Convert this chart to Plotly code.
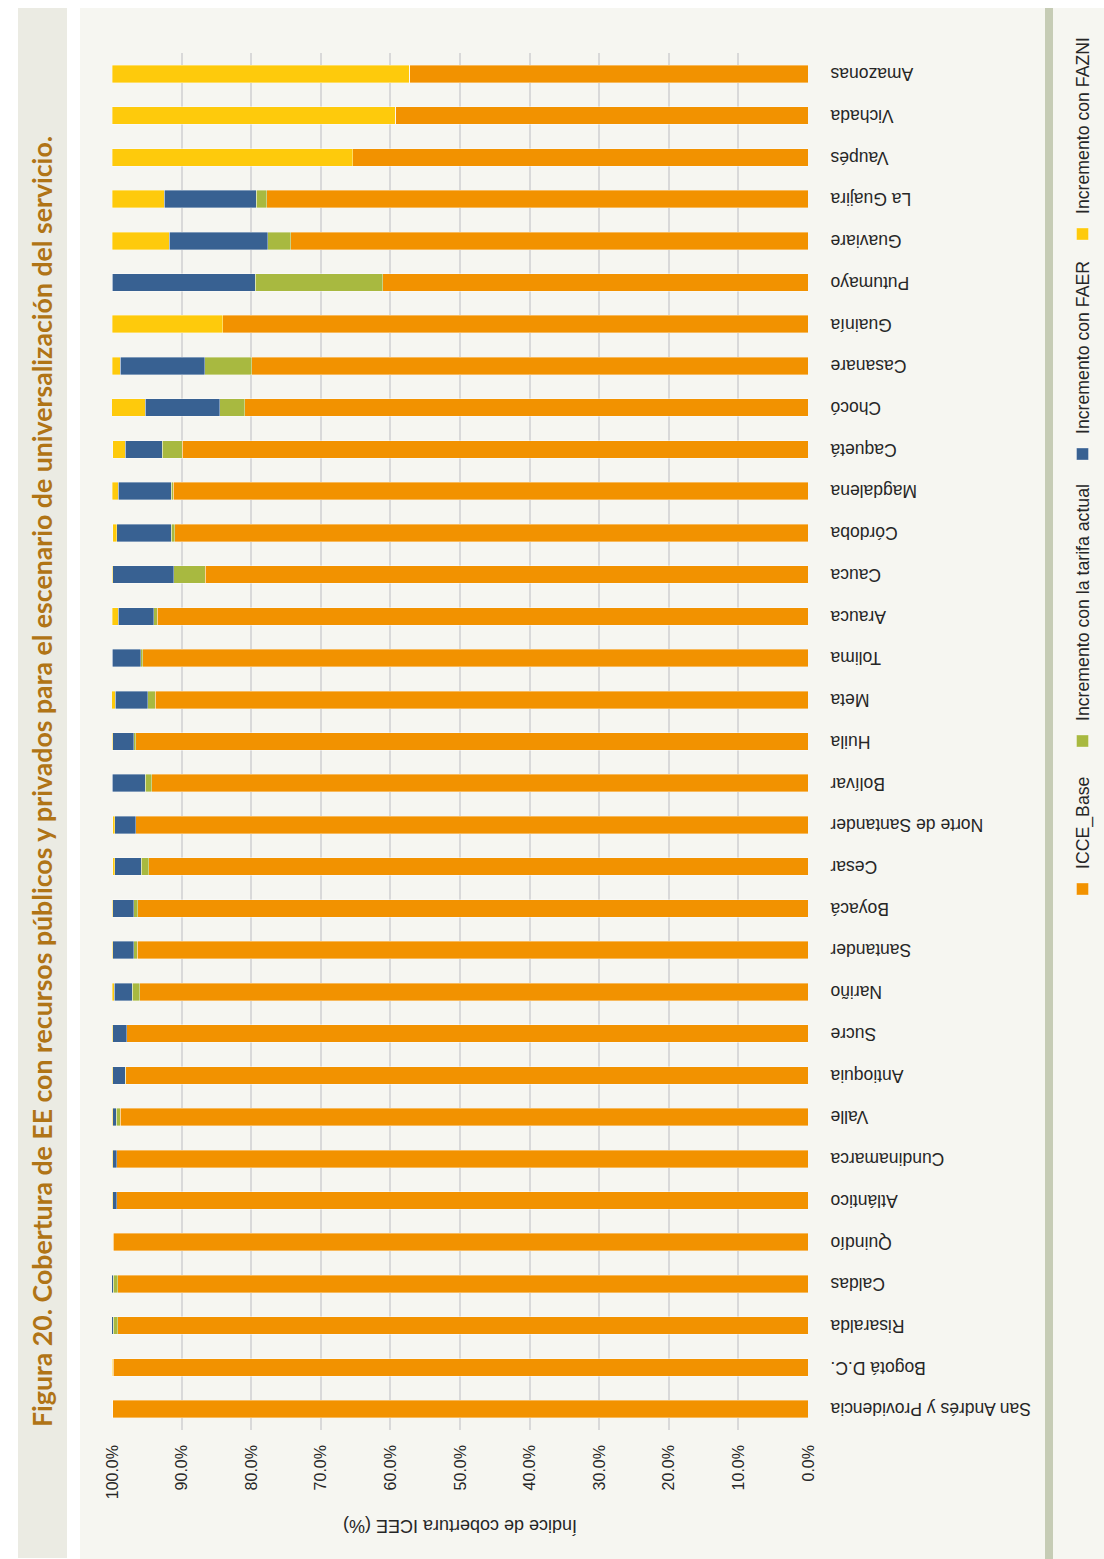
import plotly.graph_objects as go

# ---------------- data (left-to-right in the original landscape chart) ----------------
categories = [
    "San Andrés y Providencia", "Bogotá D.C.", "Risaralda", "Caldas", "Quindío",
    "Atlántico", "Cundinamarca", "Valle", "Antioquia", "Sucre", "Nariño",
    "Santander", "Boyacá", "Cesar", "Norte de Santander", "Bolívar", "Huila",
    "Meta", "Tolima", "Arauca", "Cauca", "Córdoba", "Magdalena", "Caquetá",
    "Chocó", "Casanare", "Guainía", "Putumayo", "Guaviare", "La Guajira",
    "Vaupés", "Vichada", "Amazonas",
]
icce_base = [100.0, 99.8, 99.2, 99.2, 99.8, 99.3, 99.3, 98.8, 98.0, 97.9, 96.0,
             96.4, 96.3, 94.7, 96.6, 94.3, 96.6, 93.8, 95.6, 93.5, 86.6, 91.0,
             91.2, 89.9, 80.9, 79.9, 84.1, 61.1, 74.3, 77.8, 65.4, 59.3, 57.3]
inc_tarifa = [0.0, 0.1, 0.6, 0.6, 0.2, 0.0, 0.0, 0.6, 0.1, 0.0, 1.1,
              0.5, 0.6, 1.1, 0.0, 0.9, 0.3, 1.1, 0.3, 0.5, 4.5, 0.5,
              0.3, 2.9, 3.6, 6.8, 0.0, 18.3, 3.3, 1.5, 0.0, 0.0, 0.0]
inc_faer = [0.0, 0.0, 0.3, 0.3, 0.0, 0.6, 0.6, 0.5, 1.8, 2.0, 2.6,
            3.0, 3.0, 3.8, 3.0, 4.8, 3.0, 4.6, 4.1, 5.1, 8.8, 7.8,
            7.6, 5.3, 10.7, 12.1, 0.0, 20.6, 14.2, 13.2, 0.0, 0.0, 0.0]
inc_fazni = [0.0, 0.1, 0.0, 0.0, 0.0, 0.1, 0.1, 0.1, 0.1, 0.1, 0.3,
             0.1, 0.1, 0.3, 0.3, 0.1, 0.1, 0.6, 0.1, 0.9, 0.1, 0.6,
             0.9, 1.8, 4.9, 1.2, 15.9, 0.2, 8.2, 7.5, 34.6, 40.7, 42.7]

series_names = ["ICCE_Base", "Incremento con la tarifa actual",
                "Incremento con FAER", "Incremento con FAZNI"]
series_values = [icce_base, inc_tarifa, inc_faer, inc_fazni]
series_colors = ["#F29200", "#A8B940", "#386192", "#FECA0C"]

value_ticks = [i / 10 for i in range(11)]

title_text = ("Figura 20. Cobertura de EE con recursos públicos y privados para el "
              "escenario de universalización del servicio.")
axis_title = "Índice de cobertura ICEE (%)"

# ---------------- geometry of the landscape page (rotated afterwards) ----------------
W, H = 1559, 1104
ML, MR, MT, MB = 129, 53, 112, 296
PW, PH = W - ML - MR, H - MT - MB


def px_x(x):
    return (x - ML) / PW


def px_y(y):
    return (H - MB - y) / PH


legend_ids = ["legend", "legend2", "legend3", "legend4"]
legend_left_px = [650, 798, 1085, 1305]

fig = go.Figure()
for name, vals, col, lid in zip(series_names, series_values, series_colors, legend_ids):
    fig.add_trace(go.Bar(
        x=categories, y=[v / 100 for v in vals], name=name, legend=lid,
        marker=dict(color=col, line=dict(color="rgba(255,255,255,0.45)", width=0.8)),
    ))

shapes = [
    # chart background panel
    dict(type="rect", xref="paper", yref="paper", layer="below",
         x0=px_x(0), x1=px_x(1551), y0=px_y(80), y1=px_y(1104),
         fillcolor="#F6F6F1", line=dict(width=0)),
    # title band
    dict(type="rect", xref="paper", yref="paper", layer="below",
         x0=px_x(1), x1=px_x(1551), y0=px_y(18), y1=px_y(67),
         fillcolor="#EBEBE3", line=dict(width=0)),
    # separator above legend
    dict(type="rect", xref="paper", yref="paper", layer="below",
         x0=px_x(0), x1=px_x(1551), y0=px_y(1045), y1=px_y(1053),
         fillcolor="#C6CCB5", line=dict(width=0)),
]

legend_layouts = {}
for lid, lx in zip(legend_ids, legend_left_px):
    legend_layouts[lid] = dict(orientation="h", x=px_x(lx), xanchor="left",
                               y=px_y(1083), yanchor="middle", bgcolor="rgba(0,0,0,0)",
                               font=dict(size=17.7, color="#262626"))

fig.update_layout(
    width=W, height=H,
    margin=dict(l=ML, r=MR, t=MT, b=MB, autoexpand=False),
    barmode="stack", bargap=0.58,
    paper_bgcolor="#FFFFFF", plot_bgcolor="#F6F6F1",
    font=dict(family="Liberation Sans, Arial, sans-serif", color="#262626", size=16),
    title=dict(text=title_text, xref="container", yref="container",
               x=132 / W, xanchor="left", y=1 - 43 / H, yanchor="middle",
               font=dict(family="Lato", size=26.7, color="#B07416", weight="bold")),
    xaxis=dict(type="category", tickangle=-90, range=[-0.5, len(categories) - 0.5],
               showgrid=False, zeroline=False, showline=False, ticks="",
               tickfont=dict(size=17.5, color="#262626"), ticklabelstandoff=18),
    yaxis=dict(range=[0, 1], tickvals=value_ticks, tickformat=".1%",
               showgrid=True, gridcolor="#D9D9D9", gridwidth=1.5,
               zeroline=False, showline=False, ticks="",
               tickfont=dict(size=16, color="#262626"), ticklabelstandoff=14,
               title=dict(text=axis_title, font=dict(size=18, color="#262626"))),
    shapes=shapes,
    showlegend=True,
    **legend_layouts,
)

# rotate the landscape page 90 degrees counter-clockwise to obtain the portrait view
post = """
var gd = document.getElementById('{plot_id}');
document.documentElement.style.margin = '0';
document.body.style.margin = '0';
document.body.style.overflow = 'hidden';
gd.style.position = 'absolute';
gd.style.left = '0px';
gd.style.top = '0px';
gd.style.transformOrigin = '0 0';
gd.style.transform = 'translate(0px, %dpx) rotate(-90deg)';
""" % W

fig.write_html("out.html", config={"responsive": False, "displayModeBar": False},
               post_script=post)
